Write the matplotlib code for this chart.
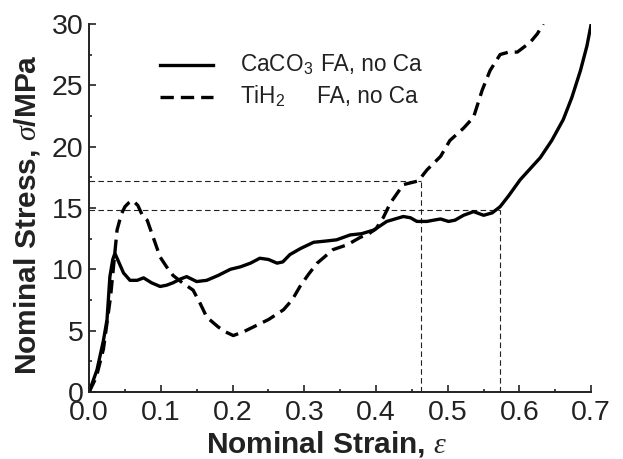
import matplotlib
matplotlib.use("Agg")
import matplotlib.pyplot as plt
from matplotlib.ticker import MultipleLocator, FormatStrFormatter

# CaCO3 FA, no Ca (solid)
eps_ca = [0, 0.011, 0.02, 0.025, 0.029, 0.033, 0.036, 0.042, 0.048, 0.057, 0.067, 0.076,
          0.087, 0.099, 0.108, 0.117, 0.127, 0.136, 0.143, 0.150, 0.164, 0.18, 0.197, 0.211,
          0.225, 0.238, 0.25, 0.262, 0.27, 0.280, 0.295, 0.313, 0.33, 0.345, 0.364, 0.38,
          0.397, 0.415, 0.438, 0.448, 0.457, 0.471, 0.48, 0.49, 0.501, 0.51, 0.522, 0.536,
          0.55, 0.562, 0.573, 0.585, 0.601, 0.615, 0.629, 0.645, 0.661, 0.673, 0.685, 0.694, 0.70]
sig_ca = [0, 1.8, 4.2, 5.9, 9.4, 10.8, 11.3, 10.5, 9.7, 9.1, 9.1, 9.3,
          8.9, 8.6, 8.7, 8.9, 9.2, 9.4, 9.2, 9.0, 9.1, 9.5, 10.0, 10.2,
          10.5, 10.9, 10.8, 10.5, 10.6, 11.2, 11.7, 12.2, 12.3, 12.4, 12.8, 12.9,
          13.2, 13.9, 14.3, 14.2, 13.9, 13.9, 14.0, 14.1, 13.9, 14.0, 14.4, 14.7,
          14.4, 14.6, 15.1, 16.0, 17.3, 18.2, 19.1, 20.5, 22.2, 24.0, 26.2, 28.2, 30.0]

# TiH2 FA, no Ca (dashed)
eps_ti = [0, 0.01, 0.02, 0.03, 0.039, 0.045, 0.05, 0.055, 0.061, 0.068, 0.075, 0.081,
          0.09, 0.099, 0.108, 0.117, 0.13, 0.145, 0.155, 0.164, 0.18, 0.19, 0.201, 0.215,
          0.229, 0.25, 0.271, 0.283, 0.294, 0.306, 0.318, 0.33, 0.340, 0.36, 0.378, 0.39,
          0.40, 0.41, 0.42, 0.438, 0.459, 0.471, 0.49, 0.503, 0.522, 0.536, 0.548, 0.559,
          0.573, 0.585, 0.597, 0.615, 0.625, 0.633]
sig_ti = [0, 1.2, 3.5, 7.8, 13.2, 14.5, 15.1, 15.4, 15.6, 15.2, 14.3, 14.0,
          12.5, 11.0, 10.2, 9.5, 8.9, 8.3, 7.2, 6.1, 5.3, 4.9, 4.6, 4.9,
          5.3, 5.9, 6.7, 7.5, 8.6, 9.6, 10.5, 11.1, 11.6, 12.0, 12.6, 12.9,
          13.3, 14.2, 15.4, 16.9, 17.2, 18.1, 19.2, 20.5, 21.5, 22.4, 24.6, 26.2,
          27.5, 27.7, 27.7, 28.5, 29.2, 30.0]

# plateau guide lines (strain, stress)
guide_eps = [0.462, 0.573]
guide_sig = [17.2, 14.8]

plt.rcParams.update({
    "font.family": "Liberation Sans",
    "mathtext.fontset": "custom",
    "mathtext.rm": "Liberation Sans",
    "mathtext.it": "Liberation Serif:italic",
    "mathtext.bf": "Liberation Sans:bold",
})

DASH = (0, (4, 2.1))

fig = plt.figure(figsize=(6.23, 4.59), dpi=100)
ax = fig.add_axes([0.143, 0.146, 0.806, 0.802])

for e, s in zip(guide_eps, guide_sig):
    ax.plot([0, e], [s, s], color="#222222", lw=0.8, ls=(0, (5, 3)))
    ax.plot([e, e], [0, s], color="#222222", lw=0.8, ls=(0, (5, 3)))

ax.plot(eps_ca, sig_ca, color="black", lw=2.4, solid_joinstyle="round")
ax.plot(eps_ti, sig_ti, color="black", lw=2.4, ls=DASH)

ax.set_xlim(0, 0.7)
ax.set_ylim(0, 30)
ax.xaxis.set_major_locator(MultipleLocator(0.1))
ax.xaxis.set_minor_locator(MultipleLocator(0.05))
ax.yaxis.set_major_locator(MultipleLocator(5))
ax.yaxis.set_minor_locator(MultipleLocator(2.5))
ax.xaxis.set_major_formatter(FormatStrFormatter("%.1f"))
ax.tick_params(which="both", direction="in", labelsize=20.5, width=1.2, color="#222222",
               labelcolor="#222222")
ax.tick_params(axis="x", pad=6)
ax.tick_params(axis="y", pad=4)
ax.tick_params(which="major", length=5)
ax.tick_params(which="minor", length=2.5)
for sp in ["top", "right"]:
    ax.spines[sp].set_visible(False)
for sp in ["left", "bottom"]:
    ax.spines[sp].set_linewidth(1.4)
    ax.spines[sp].set_color("#222222")

ax.set_xlabel(r"Nominal Strain, $\varepsilon$", fontsize=21.5, fontweight="bold", color="#222222")
ax.set_ylabel(r"Nominal Stress, $\sigma$/MPa", fontsize=21.5, fontweight="bold", color="#222222")
ax.xaxis.label.set_va("center")
ax.yaxis.label.set_va("center")
ax.xaxis.set_label_coords(0.472, -0.141)
ax.yaxis.set_label_coords(-0.1235, 0.481)

# legend drawn by hand so the "FA, no Ca" parts line up
ax.plot([0.141, 0.247], [0.889, 0.889], transform=ax.transAxes, color="black", lw=2.4)
ax.plot([0.141, 0.247], [0.802, 0.802], transform=ax.transAxes, color="black", lw=2.4, ls=DASH)
ax.text(0.301, 0.889, r"CaCO$_3$", transform=ax.transAxes, fontsize=16.3, va="center", color="#222222")
ax.text(0.462, 0.889, "FA, no Ca", transform=ax.transAxes, fontsize=16.3, va="center", color="#222222")
ax.text(0.301, 0.802, r"TiH$_2$", transform=ax.transAxes, fontsize=16.3, va="center", color="#222222")
ax.text(0.454, 0.802, "FA, no Ca", transform=ax.transAxes, fontsize=16.3, va="center", color="#222222")

fig.savefig("out.png", dpi=100)
